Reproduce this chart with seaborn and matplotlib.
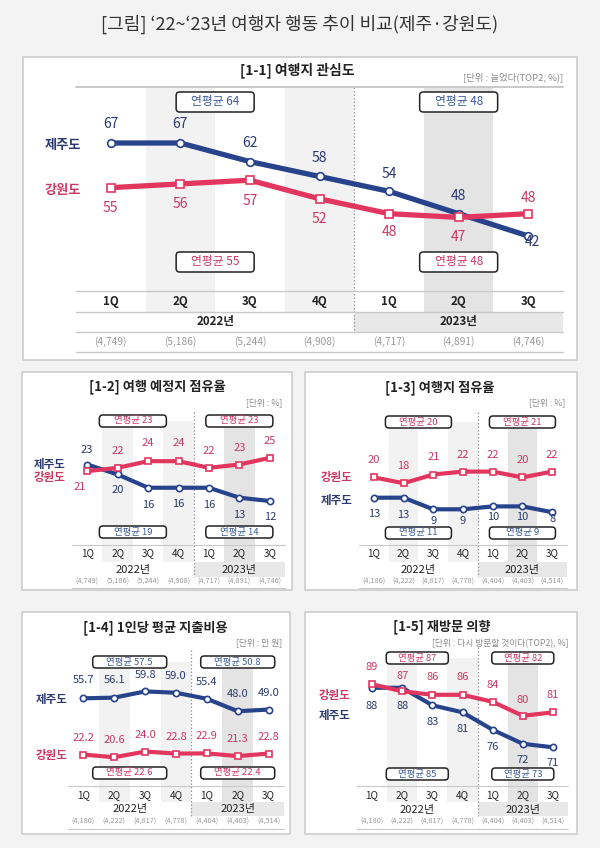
import numpy as np
import pandas as pd
import matplotlib.pyplot as plt
import seaborn as sns
from matplotlib.patches import Rectangle, FancyBboxPatch
from matplotlib.lines import Line2D
from matplotlib.transforms import Affine2D

sns.set_theme(style='white')
plt.rcParams['font.family'] = ['Noto Sans CJK KR', 'DejaVu Sans']

# ---- data ----
quarters = ['1Q', '2Q', '3Q', '4Q', '1Q', '2Q', '3Q']
years = ['2022년', '2023년']
n_a = ['(4,749)', '(5,186)', '(5,244)', '(4,908)', '(4,717)', '(4,891)', '(4,746)']
n_b = ['(4,180)', '(4,222)', '(4,817)', '(4,778)', '(4,404)', '(4,403)', '(4,514)']

jeju_interest = [67, 67, 62, 58, 54, 48, 42]
gangwon_interest = [55, 56, 57, 52, 48, 47, 48]
jeju_plan = [23, 20, 16, 16, 16, 13, 12]
gangwon_plan = [21, 22, 24, 24, 22, 23, 25]
jeju_share = [13, 13, 9, 9, 10, 10, 8]
gangwon_share = [20, 18, 21, 22, 22, 20, 22]
jeju_spend = [55.7, 56.1, 59.8, 59.0, 55.4, 48.0, 49.0]
gangwon_spend = [22.2, 20.6, 24.0, 22.8, 22.9, 21.3, 22.8]
jeju_revisit = [88, 88, 83, 81, 76, 72, 71]
gangwon_revisit = [89, 87, 86, 86, 84, 80, 81]

# yearly averages (2022, 2023)
jeju_avg = {'1-1': ['64', '48'], '1-2': ['19', '14'], '1-3': ['11', '9'], '1-4': ['57.5', '50.8'], '1-5': ['85', '73']}
gangwon_avg = {'1-1': ['55', '48'], '1-2': ['23', '23'], '1-3': ['20', '21'], '1-4': ['22.6', '22.4'], '1-5': ['87', '82']}

NAVY = '#27438c'
NAVY_T = '#2b3a6e'
NAVY_B = '#3d5b98'
RED = '#e3365f'
RED_T = '#cb3962'
GRAY_T = '#999999'

W, H = 600, 848
fig = plt.figure(figsize=(6, 8.48), dpi=100)
fig.patch.set_facecolor('#f3f3f3')
# pixel coordinates, origin top-left
PX = Affine2D().scale(1 / W, -1 / H).translate(0, 1) + fig.transFigure

fig.text(300, 24, '[그림] ‘22~‘23년 여행자 행동 추이 비교(제주·강원도)', transform=PX,
         ha='center', va='center', fontsize=13, color='#333333')


def ftext(x, y, s, **kw):
    fig.text(x, y, s, transform=PX, ha=kw.pop('ha', 'center'), va='center', zorder=2, **kw)


def hline(x0, x1, y, **kw):
    fig.add_artist(Line2D([x0, x1], [y, y], transform=PX, **kw))


def avg_box(x, y, w, h, s, color, fs):
    fig.add_artist(FancyBboxPatch((x - w / 2, y - h / 2), w, h, boxstyle='round,pad=0,rounding_size=3.5',
                                  transform=PX, fc='white', ec='#222222', lw=1.1, zorder=2))
    ftext(x, y, s, color=color, fontsize=fs)


def draw_panel(p):
    x0, y0, x1, y1 = p['box']
    fig.add_artist(Rectangle((x0, y0), x1 - x0, y1 - y0, transform=PX, fc='white', ec='#d0d0d0',
                             lw=1.3, zorder=-3))
    c0, c1 = p['cols']
    cw = (c1 - c0) / 7
    cx = lambda i: c0 + (i + 0.5) * cw

    # shaded columns
    st, sb = p['shade']
    for i in (1, 3):
        fig.add_artist(Rectangle((c0 + i * cw, st), cw, sb - st, transform=PX, fc='#f2f2f2', ec='none', zorder=-2))
    fig.add_artist(Rectangle((c0 + 5 * cw, st), cw, sb - st, transform=PX, fc='#e4e4e4', ec='none', zorder=-2))
    yt, yb = p['yr_band']
    fig.add_artist(Rectangle((c0 + 4 * cw, yt), 3 * cw, yb - yt, transform=PX, fc='#e8e8e8', ec='none', zorder=-2))

    # divider between years
    dt, db = p['div']
    fig.add_artist(Line2D([c0 + 4 * cw] * 2, [dt, db], transform=PX, color='#9a9a9a', lw=0.9,
                          ls=(0, (1.2, 1.6)), zorder=-1))
    for y, lw in p['lines']:
        hline(c0, c1, y, color='#c9c9c9', lw=lw, zorder=-1)

    # titles
    ftext(p['title_xy'][0], p['title_xy'][1], p['title'], fontsize=p['title_fs'], fontweight='bold', color='#222222')
    ftext(p['unit_xy'][0], p['unit_xy'][1], p['unit'], ha='right', fontsize=p['unit_fs'], color='#8a8a8a')

    # table rows
    for i, q in enumerate(quarters):
        ftext(cx(i), p['q_y'], q, fontsize=p['q_fs'], fontweight=p['q_w'], color='#222222')
        ftext(cx(i), p['n_y'], p['n'][i], fontsize=p['n_fs'], color=GRAY_T)
    ftext(c0 + 2 * cw, p['yr_y'], years[0], fontsize=p['yr_fs'], fontweight=p['q_w'], color='#222222')
    ftext(cx(5), p['yr_y'], years[1], fontsize=p['yr_fs'], fontweight=p['q_w'], color='#222222')

    # series names
    ftext(p['name_x'], p['name_y'][0], '제주도', fontsize=p['name_fs'], fontweight='bold', color=NAVY_T)
    ftext(p['name_x'], p['name_y'][1], '강원도', fontsize=p['name_fs'], fontweight='bold', color=RED_T)

    # yearly average boxes
    bw, bh = p['box_wh']
    avgs = {'jeju': (jeju_avg[p['key']], NAVY_B), 'gangwon': (gangwon_avg[p['key']], RED_T)}
    for pos, series in zip(p['box_y'], p['box_order']):
        vals, col = avgs[series]
        avg_box(c0 + 2 * cw, pos, bw, bh, '연평균 ' + vals[0], col, p['box_fs'])
        avg_box(cx(5), pos, bw, bh, '연평균 ' + vals[1], col, p['box_fs'])

    # line axes
    at, ab = p['ax_y']
    ax = fig.add_axes([c0 / W, 1 - ab / H, (c1 - c0) / W, (ab - at) / H])
    yref, vref, ppu = p['ymap']
    ax.set_xlim(-0.5, 6.5)
    ax.set_ylim(vref - (ab - yref) / ppu, vref + (yref - at) / ppu)
    ax.axis('off')

    df = pd.DataFrame({'q': list(range(7)) * 2,
                       'value': p['jeju'] + p['gangwon'],
                       'region': ['제주도'] * 7 + ['강원도'] * 7})
    for reg, col, mk, ms in [('제주도', NAVY, 'o', p['ms']), ('강원도', RED, 's', p['ms'])]:
        sns.lineplot(data=df[df['region'] == reg], x='q', y='value', ax=ax, color=col, lw=p['lw'],
                     marker=mk, markersize=ms, markerfacecolor='white', markeredgecolor=col,
                     markeredgewidth=1.2, solid_joinstyle='round', solid_capstyle='round',
                     errorbar=None, legend=False, clip_on=False)

    fmt = p['fmt']
    for vals, offs, col, dxs in [(p['jeju'], p['j_off'], NAVY_T, p.get('j_dx', [0] * 7)),
                                 (p['gangwon'], p['g_off'], RED_T, p.get('g_dx', [0] * 7))]:
        for i, v in enumerate(vals):
            ax.annotate(fmt.format(v), (i, v), xytext=(dxs[i] * 0.72, -offs[i] * 0.72),
                        textcoords='offset points', ha='center', va='center',
                        fontsize=p['val_fs'], fontweight='medium', color=col, annotation_clip=False)


small_common = dict(title_fs=9.5, unit_fs=6.3, q_fs=7.2, q_w='normal', yr_fs=8, n_fs=5.2, name_fs=8.3,
                    box_fs=6.8, val_fs=8, lw=3.0, ms=4.5, fmt='{:.0f}')

panels = [
    dict(key='1-1', box=(23, 57, 577, 360), cols=(76, 563), title='[1-1] 여행지 관심도', title_xy=(297, 70),
         title_fs=10, unit='[단위 : 늘었다(TOP2, %)]', unit_xy=(563, 77), unit_fs=6.8,
         shade=(87, 312), yr_band=(312, 332), div=(87, 332),
         lines=[(87, 1.4), (291, 1.0), (312, 1.0), (332, 1.0), (352, 1.0)],
         q_y=301, yr_y=322, n_y=342, q_fs=8.3, q_w='bold', yr_fs=8.3, n_fs=7.3, n=n_a,
         name_x=63, name_y=(145, 190), name_fs=9.5,
         box_wh=(78, 20), box_y=(102, 262), box_order=('jeju', 'gangwon'), box_fs=8.5,
         ax_y=(87, 291), ymap=(143, 67, 3.72), jeju=jeju_interest, gangwon=gangwon_interest,
         j_off=[-19, -19, -19, -18, -17, -18, 6], j_dx=[0, 0, 0, 0, 0, 0, 4],
         g_off=[20, 20, 21, 20, 18, 20, -16], val_fs=10, lw=3.8, ms=5.5, fmt='{:.0f}'),
    dict(small_common, key='1-2', box=(22, 372, 292, 590), cols=(72, 285), title='[1-2] 여행 예정지 점유율',
         title_xy=(157, 387), unit='[단위 : %]', unit_xy=(282, 403),
         shade=(421, 562), yr_band=(562, 577), div=(412, 577), lines=[(545, 0.8), (588, 0.8)],
         q_y=553, yr_y=570, n_y=582, n=n_a, name_x=50, name_y=(464, 478),
         box_wh=(67, 12), box_y=(421, 532), box_order=('gangwon', 'jeju'),
         ax_y=(430, 545), ymap=(464.5, 23, 3.32), jeju=jeju_plan, gangwon=gangwon_plan,
         j_off=[-15, 16, 17, 16, 17, 17, 16], g_off=[16, -17, -18, -18, -17, -17, -17],
         g_dx=[-7, 0, 0, 0, 0, 0, 0]),
    dict(small_common, key='1-3', box=(305, 372, 577, 590), cols=(359, 567), title='[1-3] 여행지 점유율',
         title_xy=(440, 388), unit='[단위 : %]', unit_xy=(565, 403),
         shade=(422, 562), yr_band=(562, 577), div=(412, 577), lines=[(545, 0.8), (588, 0.8)],
         q_y=553, yr_y=570, n_y=582, n=n_b, name_x=337, name_y=(500, 477),
         box_wh=(66, 12), box_y=(422, 533), box_order=('gangwon', 'jeju'),
         ax_y=(430, 545), ymap=(497.7, 13, 2.9), jeju=jeju_share, gangwon=gangwon_share,
         j_off=[16, 17, 12, 12, 11, 11, 7], g_off=[-17] * 7),
    dict(small_common, key='1-4', box=(22, 612, 290, 834), cols=(68, 284), title='[1-4] 1인당 평균 지출비용',
         title_xy=(155, 628), unit='[단위 : 만 원]', unit_xy=(282, 643),
         shade=(662, 802), yr_band=(802, 816), div=(650, 816), lines=[(786, 0.8), (829, 0.8)],
         q_y=795, yr_y=809, n_y=822, n=n_b, name_x=52, name_y=(699, 755),
         box_wh=(74, 12), box_y=(662, 773), box_order=('jeju', 'gangwon'),
         ax_y=(665, 786), ymap=(698.3, 55.7, 1.68), jeju=jeju_spend, gangwon=gangwon_spend,
         j_off=[-18, -18, -16, -17, -17, -17, -17], g_off=[-17] * 7, fmt='{:.1f}'),
    dict(small_common, key='1-5', box=(305, 612, 577, 834), cols=(357, 568), title='[1-5] 재방문 의향',
         title_xy=(442, 627), unit='[단위 : 다시 방문할 것이다(TOP2), %]', unit_xy=(568, 644),
         shade=(658, 802), yr_band=(802, 816), div=(647, 816), lines=[(786, 0.8), (829, 0.8)],
         q_y=795, yr_y=810, n_y=822, n=n_b, name_x=335, name_y=(715, 696),
         box_wh=(62, 12), box_y=(658, 774), box_order=('gangwon', 'jeju'),
         ax_y=(660, 786), ymap=(684.3, 89, 3.5), jeju=jeju_revisit, gangwon=gangwon_revisit,
         j_off=[18, 18, 17, 17, 17, 16, 16], g_off=[-17, -15, -18, -18, -17, -16, -17]),
]

for p in panels:
    draw_panel(p)

fig.savefig('out.png', dpi=100, facecolor=fig.get_facecolor())
